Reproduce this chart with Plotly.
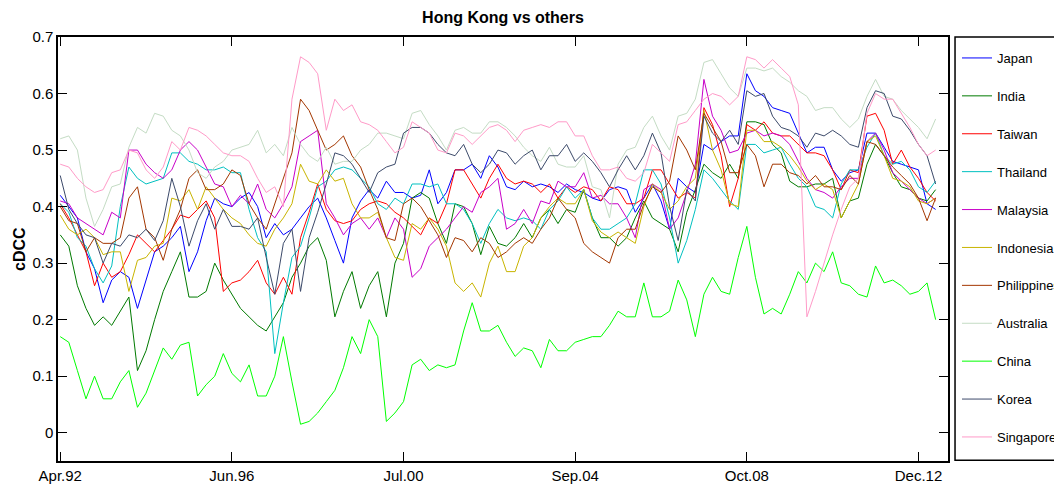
import plotly.graph_objects as go

# sample positions (trading-day index, every 50 obs) and axis ticks
obs = list(range(0, 5101, 50))
tick_obs = [0, 1000, 2000, 3000, 4000, 5000]
tick_labels = ["Apr.92", "Jun.96", "Jul.00", "Sep.04", "Oct.08", "Dec.12"]

japan = [0.42, 0.40, 0.38, 0.32, 0.29, 0.23, 0.27, 0.285, 0.275, 0.22, 0.27, 0.32, 0.33, 0.345, 0.365, 0.285, 0.32, 0.375, 0.415, 0.405, 0.40,
         0.415, 0.425, 0.40, 0.345, 0.37, 0.35, 0.36, 0.38, 0.40, 0.415, 0.38, 0.34, 0.30, 0.38, 0.41, 0.43, 0.415, 0.445, 0.425, 0.425, 0.415,
         0.42, 0.465, 0.405, 0.425, 0.465, 0.465, 0.475, 0.45, 0.49, 0.47, 0.435, 0.43, 0.445, 0.435, 0.44, 0.435, 0.425, 0.44, 0.43, 0.425, 0.415,
         0.41, 0.43, 0.435, 0.43, 0.39, 0.415, 0.44, 0.41, 0.36, 0.45, 0.435, 0.425, 0.51, 0.50, 0.515, 0.525, 0.525, 0.635, 0.605, 0.595, 0.575,
         0.57, 0.565, 0.53, 0.495, 0.505, 0.505, 0.465, 0.445, 0.46, 0.465, 0.53, 0.53, 0.505, 0.48, 0.475, 0.47, 0.465, 0.405, 0.395]
india = [0.35, 0.33, 0.26, 0.22, 0.19, 0.205, 0.19, 0.215, 0.24, 0.11, 0.145, 0.20, 0.25, 0.285, 0.32, 0.24, 0.24, 0.25, 0.30, 0.27, 0.245,
         0.22, 0.205, 0.19, 0.18, 0.205, 0.23, 0.275, 0.30, 0.33, 0.345, 0.305, 0.205, 0.25, 0.285, 0.22, 0.26, 0.285, 0.205, 0.30, 0.335, 0.415,
         0.425, 0.415, 0.37, 0.335, 0.405, 0.40, 0.37, 0.315, 0.365, 0.335, 0.33, 0.345, 0.37, 0.345, 0.38, 0.395, 0.37, 0.395, 0.39, 0.43, 0.38,
         0.345, 0.345, 0.33, 0.345, 0.38, 0.41, 0.38, 0.37, 0.36, 0.32, 0.39, 0.43, 0.475, 0.46, 0.45, 0.475, 0.45, 0.55, 0.55, 0.545, 0.51,
         0.495, 0.445, 0.435, 0.435, 0.44, 0.44, 0.45, 0.38, 0.41, 0.415, 0.475, 0.51, 0.49, 0.46, 0.435, 0.43, 0.415, 0.41, 0.43]
taiwan = [0.405, 0.38, 0.35, 0.32, 0.26, 0.30, 0.275, 0.285, 0.315, 0.35, 0.335, 0.32, 0.34, 0.36, 0.385, 0.38, 0.395, 0.41, 0.38, 0.25, 0.265,
          0.27, 0.285, 0.305, 0.265, 0.245, 0.275, 0.245, 0.345, 0.39, 0.44, 0.395, 0.375, 0.37, 0.375, 0.395, 0.405, 0.41, 0.405, 0.39, 0.38, 0.365,
          0.35, 0.38, 0.37, 0.405, 0.465, 0.465, 0.44, 0.415, 0.45, 0.475, 0.45, 0.44, 0.445, 0.44, 0.425, 0.44, 0.415, 0.435, 0.425, 0.435, 0.43,
          0.41, 0.435, 0.43, 0.405, 0.405, 0.415, 0.465, 0.465, 0.44, 0.415, 0.425, 0.415, 0.575, 0.545, 0.49, 0.40, 0.45, 0.545, 0.535, 0.55, 0.53,
          0.525, 0.525, 0.51, 0.495, 0.495, 0.49, 0.465, 0.43, 0.465, 0.46, 0.56, 0.565, 0.535, 0.475, 0.50, 0.47, 0.45, 0.425, 0.41]
thailand = [0.405, 0.39, 0.345, 0.33, 0.29, 0.265, 0.295, 0.40, 0.47, 0.45, 0.44, 0.445, 0.45, 0.495, 0.495, 0.48, 0.475, 0.465, 0.465, 0.47, 0.46,
            0.46, 0.395, 0.345, 0.32, 0.14, 0.23, 0.31, 0.33, 0.38, 0.435, 0.445, 0.465, 0.47, 0.465, 0.45, 0.435, 0.405, 0.395, 0.415, 0.405, 0.44,
            0.44, 0.435, 0.44, 0.405, 0.405, 0.395, 0.37, 0.335, 0.37, 0.395, 0.38, 0.375, 0.38, 0.375, 0.36, 0.395, 0.41, 0.435, 0.415, 0.43, 0.38,
            0.36, 0.36, 0.37, 0.38, 0.405, 0.465, 0.465, 0.44, 0.38, 0.30, 0.34, 0.395, 0.465, 0.45, 0.43, 0.41, 0.395, 0.51, 0.51, 0.495, 0.50,
            0.505, 0.475, 0.45, 0.435, 0.40, 0.395, 0.38, 0.44, 0.465, 0.465, 0.505, 0.53, 0.49, 0.475, 0.48, 0.465, 0.435, 0.425, 0.445]
malaysia = [0.41, 0.405, 0.38, 0.37, 0.36, 0.35, 0.39, 0.38, 0.50, 0.50, 0.475, 0.46, 0.45, 0.465, 0.50, 0.515, 0.50, 0.47, 0.44, 0.435, 0.40,
            0.42, 0.405, 0.44, 0.395, 0.38, 0.405, 0.435, 0.515, 0.525, 0.535, 0.405, 0.38, 0.35, 0.37, 0.38, 0.36, 0.38, 0.345, 0.38, 0.36, 0.275,
            0.29, 0.33, 0.345, 0.36, 0.38, 0.40, 0.39, 0.425, 0.435, 0.45, 0.36, 0.37, 0.395, 0.37, 0.41, 0.405, 0.445, 0.435, 0.435, 0.46, 0.415,
            0.42, 0.405, 0.405, 0.38, 0.345, 0.43, 0.44, 0.43, 0.36, 0.38, 0.425, 0.475, 0.625, 0.56, 0.535, 0.495, 0.50, 0.53, 0.535, 0.525, 0.53,
            0.525, 0.51, 0.48, 0.45, 0.43, 0.425, 0.415, 0.435, 0.45, 0.45, 0.515, 0.53, 0.50, 0.46, 0.445, 0.43, 0.415, 0.405, 0.415]
indonesia = [0.385, 0.36, 0.35, 0.36, 0.345, 0.315, 0.32, 0.32, 0.25, 0.305, 0.31, 0.33, 0.335, 0.415, 0.41, 0.43, 0.395, 0.435, 0.415, 0.395, 0.38,
             0.37, 0.35, 0.335, 0.33, 0.36, 0.38, 0.405, 0.475, 0.445, 0.44, 0.465, 0.445, 0.45, 0.405, 0.38, 0.38, 0.39, 0.345, 0.31, 0.305, 0.37,
             0.36, 0.38, 0.36, 0.33, 0.265, 0.25, 0.265, 0.24, 0.30, 0.33, 0.285, 0.285, 0.33, 0.345, 0.38, 0.40, 0.415, 0.405, 0.405, 0.43, 0.375,
             0.355, 0.345, 0.355, 0.345, 0.335, 0.40, 0.44, 0.425, 0.395, 0.41, 0.435, 0.45, 0.57, 0.50, 0.465, 0.405, 0.40, 0.535, 0.535, 0.515, 0.515,
             0.505, 0.49, 0.47, 0.445, 0.43, 0.44, 0.43, 0.38, 0.41, 0.44, 0.515, 0.525, 0.49, 0.45, 0.445, 0.435, 0.41, 0.405, 0.415]
philippines = [0.40, 0.375, 0.37, 0.32, 0.345, 0.335, 0.335, 0.345, 0.415, 0.435, 0.36, 0.345, 0.305, 0.36, 0.395, 0.45, 0.465, 0.43, 0.43, 0.44, 0.465,
               0.455, 0.405, 0.38, 0.36, 0.405, 0.45, 0.495, 0.59, 0.57, 0.535, 0.50, 0.51, 0.525, 0.49, 0.47, 0.43, 0.395, 0.345, 0.34, 0.405, 0.415,
               0.40, 0.375, 0.35, 0.31, 0.345, 0.34, 0.32, 0.345, 0.335, 0.31, 0.32, 0.335, 0.345, 0.335, 0.36, 0.38, 0.415, 0.395, 0.38, 0.335, 0.32,
               0.31, 0.30, 0.345, 0.36, 0.36, 0.405, 0.435, 0.425, 0.445, 0.525, 0.50, 0.465, 0.565, 0.54, 0.515, 0.46, 0.46, 0.51, 0.49, 0.435, 0.475,
               0.475, 0.46, 0.455, 0.44, 0.455, 0.435, 0.435, 0.43, 0.455, 0.44, 0.515, 0.51, 0.49, 0.47, 0.455, 0.44, 0.415, 0.375, 0.415]
australia = [0.52, 0.525, 0.50, 0.415, 0.365, 0.395, 0.435, 0.44, 0.505, 0.54, 0.53, 0.565, 0.56, 0.535, 0.525, 0.50, 0.46, 0.45, 0.47, 0.48, 0.50,
             0.505, 0.51, 0.535, 0.495, 0.51, 0.49, 0.54, 0.51, 0.49, 0.48, 0.505, 0.475, 0.48, 0.48, 0.50, 0.51, 0.53, 0.53, 0.525, 0.52, 0.565,
             0.57, 0.545, 0.525, 0.50, 0.535, 0.54, 0.53, 0.53, 0.55, 0.55, 0.54, 0.525, 0.505, 0.49, 0.48, 0.505, 0.475, 0.47, 0.47, 0.49, 0.435,
             0.43, 0.38, 0.475, 0.50, 0.505, 0.54, 0.56, 0.525, 0.50, 0.56, 0.565, 0.59, 0.655, 0.66, 0.635, 0.61, 0.595, 0.645, 0.645, 0.64, 0.645,
             0.63, 0.62, 0.605, 0.595, 0.57, 0.575, 0.575, 0.555, 0.54, 0.555, 0.595, 0.625, 0.595, 0.59, 0.57, 0.555, 0.54, 0.52, 0.555]
china = [0.17, 0.16, 0.11, 0.06, 0.10, 0.06, 0.06, 0.09, 0.11, 0.045, 0.07, 0.11, 0.15, 0.13, 0.155, 0.16, 0.065, 0.085, 0.10, 0.14, 0.105,
         0.09, 0.12, 0.065, 0.065, 0.10, 0.17, 0.09, 0.015, 0.02, 0.035, 0.055, 0.075, 0.115, 0.17, 0.14, 0.20, 0.17, 0.02, 0.035, 0.055, 0.12,
         0.13, 0.11, 0.12, 0.115, 0.12, 0.18, 0.23, 0.18, 0.18, 0.19, 0.16, 0.135, 0.15, 0.145, 0.115, 0.165, 0.145, 0.145, 0.16, 0.165, 0.17,
         0.17, 0.19, 0.215, 0.205, 0.205, 0.265, 0.205, 0.205, 0.215, 0.27, 0.235, 0.17, 0.245, 0.275, 0.25, 0.245, 0.31, 0.365, 0.275, 0.21, 0.22,
         0.21, 0.245, 0.285, 0.265, 0.30, 0.285, 0.32, 0.265, 0.26, 0.245, 0.24, 0.295, 0.265, 0.27, 0.26, 0.245, 0.25, 0.265, 0.20]
korea = [0.455, 0.395, 0.37, 0.35, 0.345, 0.30, 0.335, 0.33, 0.35, 0.345, 0.36, 0.34, 0.375, 0.45, 0.40, 0.33, 0.375, 0.405, 0.36, 0.395, 0.365,
         0.365, 0.36, 0.38, 0.31, 0.245, 0.335, 0.36, 0.25, 0.345, 0.39, 0.44, 0.495, 0.49, 0.475, 0.45, 0.425, 0.46, 0.47, 0.475, 0.53, 0.54,
         0.54, 0.53, 0.51, 0.495, 0.49, 0.51, 0.475, 0.46, 0.475, 0.50, 0.495, 0.475, 0.49, 0.50, 0.465, 0.49, 0.49, 0.51, 0.48, 0.495, 0.48,
         0.46, 0.435, 0.465, 0.49, 0.465, 0.49, 0.53, 0.495, 0.40, 0.34, 0.43, 0.41, 0.56, 0.53, 0.515, 0.535, 0.51, 0.605, 0.595, 0.60, 0.56,
         0.54, 0.535, 0.525, 0.505, 0.53, 0.525, 0.535, 0.525, 0.51, 0.505, 0.575, 0.605, 0.60, 0.56, 0.555, 0.535, 0.51, 0.49, 0.44]
singapore = [0.475, 0.47, 0.45, 0.435, 0.425, 0.43, 0.46, 0.465, 0.50, 0.495, 0.465, 0.45, 0.47, 0.515, 0.50, 0.54, 0.535, 0.525, 0.51, 0.495, 0.49,
             0.49, 0.48, 0.45, 0.425, 0.435, 0.40, 0.59, 0.665, 0.655, 0.635, 0.535, 0.59, 0.57, 0.58, 0.55, 0.545, 0.535, 0.515, 0.495, 0.505, 0.55,
             0.54, 0.53, 0.50, 0.495, 0.53, 0.525, 0.51, 0.525, 0.54, 0.545, 0.535, 0.515, 0.535, 0.54, 0.545, 0.54, 0.55, 0.55, 0.525, 0.525, 0.49,
             0.465, 0.465, 0.47, 0.45, 0.445, 0.46, 0.51, 0.495, 0.48, 0.545, 0.55, 0.57, 0.59, 0.60, 0.595, 0.58, 0.595, 0.665, 0.66, 0.645, 0.66,
             0.645, 0.63, 0.58, 0.205, 0.25, 0.30, 0.35, 0.395, 0.435, 0.45, 0.565, 0.60, 0.59, 0.59, 0.565, 0.54, 0.51, 0.49, 0.50]

series = [
    ("Japan", japan, "#0000ff"),
    ("India", india, "#007a00"),
    ("Taiwan", taiwan, "#ff0000"),
    ("Thailand", thailand, "#00c0c0"),
    ("Malaysia", malaysia, "#c800c8"),
    ("Indonesia", indonesia, "#c8b400"),
    ("Philippines", philippines, "#a33600"),
    ("Australia", australia, "#c4dcc4"),
    ("China", china, "#00ff00"),
    ("Korea", korea, "#3c4a6a"),
    ("Singapore", singapore, "#ff9ac8"),
]

fig = go.Figure()
for i, (name, vals, col) in enumerate(series):
    fig.add_trace(go.Scatter(x=obs[:len(vals)], y=vals, mode="lines", name=name,
                             line=dict(color=col, width=1), legendgroup="g%d" % i))

# page body adds an 8px offset, so the figure is 8px smaller than the window
W, H = 1054, 476
font = "Liberation Sans, Arial, sans-serif"
fig.update_layout(
    width=W, height=H,
    margin=dict(l=50, r=114, t=29, b=23),
    plot_bgcolor="white", paper_bgcolor="white",
    font=dict(family=font, size=15, color="black"),
    title=dict(text="<b>Hong Kong vs others</b>", x=495 / W, xanchor="center",
               y=1 - 9 / H, yanchor="middle", font=dict(size=16)),
    legend=dict(xref="container", yref="container", x=949 / W, xanchor="left",
                y=1 - 35 / H, yanchor="top", maxheight=470,
                font=dict(size=13), tracegroupgap=18, bgcolor="rgba(0,0,0,0)",
                borderwidth=0),
    showlegend=True,
)
fig.update_xaxes(range=[-13, 5172], tickvals=tick_obs, ticktext=tick_labels, automargin=False,
                 showline=True, mirror="ticks", linecolor="black", linewidth=1.5,
                 ticks="inside", ticklen=9, tickcolor="black", showgrid=False, zeroline=False)
fig.update_yaxes(range=[-0.05, 0.7], dtick=0.1, tick0=0, automargin=False,
                 showline=True, mirror="ticks", linecolor="black", linewidth=1.5,
                 ticks="inside", ticklen=9, tickcolor="black", showgrid=False, zeroline=False)

# legend frame
fig.add_shape(type="rect", xref="paper", yref="paper", x0=1.0079, x1=1.16, y0=0.002, y1=1.0,
              line=dict(color="black", width=1.5))
fig.add_annotation(text="<b>cDCC</b>", xref="paper", yref="paper", x=-0.0438, y=0.5,
                   xanchor="center", yanchor="middle",
                   textangle=-90, showarrow=False, font=dict(size=16))

fig.write_html("out.html")
